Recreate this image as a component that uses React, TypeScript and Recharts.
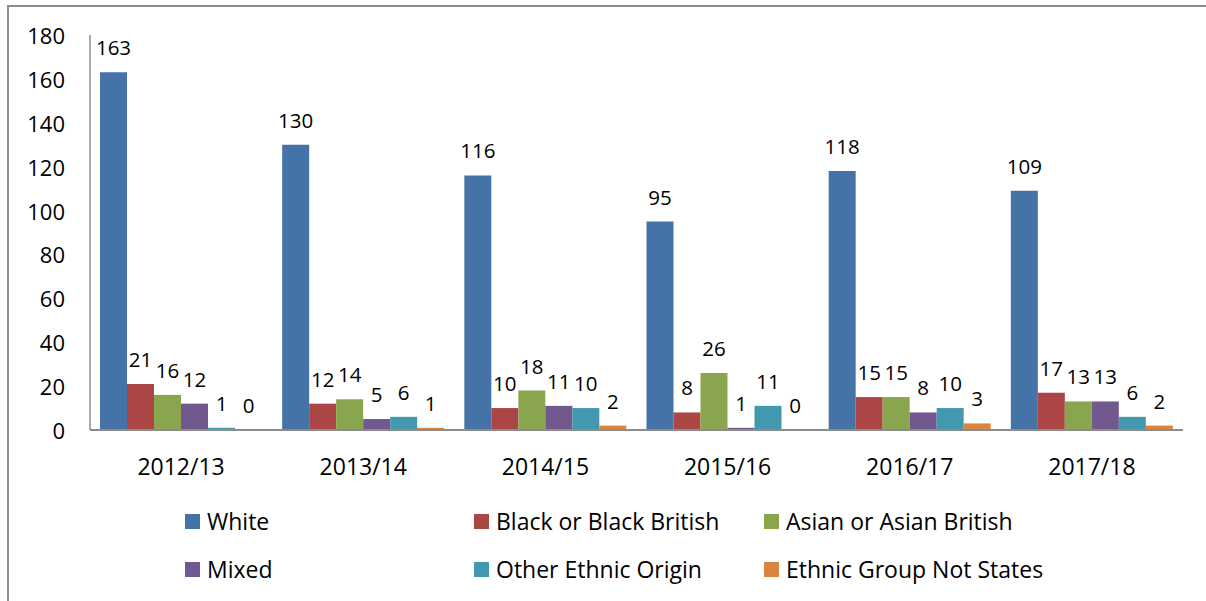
import { BarChart, Bar, XAxis, YAxis, LabelList } from 'recharts';

const years = ['2012/13', '2013/14', '2014/15', '2015/16', '2016/17', '2017/18'];
const white = [163, 130, 116, 95, 118, 109];
const black = [21, 12, 10, 8, 15, 17];
const asian = [16, 14, 18, 26, 15, 13];
const mixed = [12, 5, 11, 1, 8, 13];
const other = [1, 6, 10, 11, 10, 6];
const notStated = [0, 1, 2, 0, 3, 2];
const yTicks = [0, 20, 40, 60, 80, 100, 120, 140, 160, 180];

const series = [
  { key: 'white', name: 'White', color: '#4572A7', values: white },
  { key: 'black', name: 'Black or Black British', color: '#AA4643', values: black },
  { key: 'asian', name: 'Asian or Asian British', color: '#89A54E', values: asian },
  { key: 'mixed', name: 'Mixed', color: '#71588F', values: mixed },
  { key: 'other', name: 'Other Ethnic Origin', color: '#4198AF', values: other },
  { key: 'notStated', name: 'Ethnic Group Not States', color: '#DB843D', values: notStated },
];

const data = years.map((year, i) => {
  const row: Record<string, string | number> = { year };
  series.forEach((s) => {
    row[s.key] = s.values[i];
  });
  return row;
});

const font = '"Open Sans", sans-serif';
const legendCols = [185, 474, 764];
const legendRows = [521, 569];

function ValueLabel(props: any) {
  const { x, y, width, height, value } = props;
  // zero-height bars come through with a tiny height, keep the label on the axis
  const top = Math.min(y, y + height);
  return (
    <text x={x + width / 2} y={top - 25} textAnchor="middle" dominantBaseline="central" fontSize={20.5} fontFamily={font} fill="#000">
      {value}
    </text>
  );
}

function XTick(props: any) {
  const { x, y, payload } = props;
  return (
    <text x={x} y={y + 36} textAnchor="middle" dominantBaseline="central" fontSize={23} fontFamily={font} fill="#000">
      {payload.value}
    </text>
  );
}

function YTick(props: any) {
  const { x, y, payload } = props;
  return (
    <text x={x - 25} y={y} textAnchor="end" dominantBaseline="central" fontSize={22} fontFamily={font} fill="#000">
      {payload.value}
    </text>
  );
}

export default function App() {
  return (
    <div style={{ position: 'absolute', left: 0, top: 0, width: 1206, height: 601, background: '#fff', overflow: 'hidden' }}>
      <div style={{ position: 'absolute', left: 7, top: 5, width: 1199, height: 2, background: '#8c8c8c' }} />
      <div style={{ position: 'absolute', left: 7, top: 5, width: 2, height: 596, background: '#8c8c8c' }} />
      <BarChart
        width={1206}
        height={601}
        data={data}
        margin={{ top: 35, right: 23, bottom: 131, left: 30 }}
        barGap={0}
        barCategoryGap={10}
      >
        <XAxis
          dataKey="year"
          height={40}
          tickLine={false}
          tickSize={0}
          tickMargin={0}
          tick={<XTick />}
          axisLine={{ stroke: '#8c8c8c', strokeWidth: 2 }}
        />
        <YAxis
          width={60}
          domain={[0, 180]}
          ticks={yTicks}
          tickLine={false}
          tickSize={0}
          tickMargin={0}
          tick={<YTick />}
          axisLine={{ stroke: '#8c8c8c', strokeWidth: 1.5 }}
        />
        {series.map((s) => (
          <Bar key={s.key} dataKey={s.key} name={s.name} fill={s.color} minPointSize={0.01} isAnimationActive={false}>
            <LabelList dataKey={s.key} content={<ValueLabel />} />
          </Bar>
        ))}
      </BarChart>
      {series.map((s, i) => {
        const left = legendCols[i % 3];
        const top = legendRows[Math.floor(i / 3)];
        return (
          <div
            key={s.key}
            style={{ position: 'absolute', left, top: top - 16, height: 32, display: 'flex', alignItems: 'center', fontFamily: font, fontSize: 23, color: '#000', whiteSpace: 'nowrap' }}
          >
            <span style={{ display: 'inline-block', width: 15, height: 15, background: s.color, marginRight: 7 }} />
            {s.name}
          </div>
        );
      })}
    </div>
  );
}
